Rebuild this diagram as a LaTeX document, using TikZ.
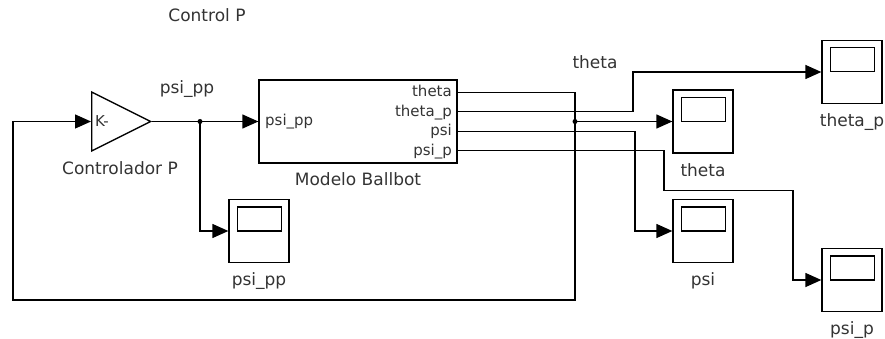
\documentclass[tikz,border=0pt]{standalone}
\usepackage{fontspec}
\setmainfont{DejaVu Sans}
\usetikzlibrary{shapes.geometric, arrows.meta, positioning, calc}
\tikzstyle{bloque} = [draw, line width=1.3pt, rectangle, inner sep=0pt]
\tikzstyle{ganancia} = [draw, line width=1.3pt, isosceles triangle, isosceles triangle stretches, minimum width=59pt, minimum height=59pt, inner sep=0pt, anchor=lower side]
\tikzstyle{osciloscopio} = [bloque, minimum width=60pt, minimum height=63pt]
\tikzstyle{senal} = [line width=1.3pt, -{Triangle[length=16pt,width=14pt]}]
\tikzstyle{linea} = [line width=1.3pt]
\tikzstyle{rotulo} = [font=\fontsize{17}{20}\selectfont, text=black!80, inner sep=0pt, anchor=base]
\tikzstyle{puerto} = [font=\fontsize{15}{18}\selectfont, text=black!80, inner sep=0pt]

\begin{document}
\begin{tikzpicture}[x=1pt, y=-1pt]
	\useasboundingbox (0,0) rectangle (885,339);
	\node[rotulo] (titulo) at (207,22) {Control P};
	% bloques
	\node[ganancia] (gan) at (91,121.5) {};
	\node[puerto, anchor=west] (ganK) at ([xshift=4pt]gan.lower side) {K-};
	\node[rotulo] (ganTxt) at (120,175) {Controlador P};
	\node[bloque, minimum width=198pt, minimum height=83pt] (mdl) at (358,121.5) {};
	\node[rotulo] (mdlTxt) at ([yshift=-22pt]mdl.south) {Modelo Ballbot};
	\node[puerto, anchor=base west] (pIn) at (265,126) {psi\_pp};
	\node[puerto, anchor=base east] (pT) at (452,97) {theta};
	\node[puerto, anchor=base east] (pTp) at (452,116.5) {theta\_p};
	\node[puerto, anchor=base east] (pP) at (452,136) {psi};
	\node[puerto, anchor=base east] (pPp) at (452,155.5) {psi\_p};
	\node[osciloscopio] (scT) at (703,121.5) {};
	\node[osciloscopio] (scTp) at (852,72) {};
	\node[osciloscopio] (scP) at (703,231) {};
	\node[osciloscopio] (scPp) at (852,280) {};
	\node[osciloscopio] (scPpp) at (259,231) {};
	\foreach \s/\t in {scT/theta, scTp/theta\_p, scP/psi, scPp/psi\_p, scPpp/psi\_pp} {
		\draw[linea] ([shift={(9pt,-8pt)}]\s.north west) rectangle ++(44pt,-24pt);
		\node[rotulo] (\s-txt) at ([yshift=-22.5pt]\s.south) {\t};
	}
	% etiquetas de senales
	\node[rotulo] (lblPpp) at (187,94) {psi\_pp};
	\node[rotulo] (lblT) at (595,69) {theta};
	% conexiones
	\coordinate (oT) at (457,92.25);
	\coordinate (oTp) at (457,111.75);
	\coordinate (oP) at (457,131.25);
	\coordinate (oPp) at (457,150.75);
	\coordinate (jG) at (200,121.5);
	\coordinate (jT) at (575,121.5);
	\coordinate (retorno) at (13,300);
	\draw[senal] (gan.apex) -- (mdl.west);
	\draw[senal] (jG) |- (scPpp.west);
	\draw[senal] (oT) -| (retorno -| jT) -- (retorno) |- (gan.lower side);
	\draw[senal] (jT) -- (scT.west);
	\draw[senal] (oTp) -- ++(176,0) |- (scTp.west);
	\draw[senal] (oP) -- ++(178,0) |- (scP.west);
	\draw[senal] (oPp) -- ++(207,0) -- ++(0,40) -- ++(129,0) |- (scPp.west);
	\fill (jG) circle (2.5pt);
	\fill (jT) circle (2.5pt);
\end{tikzpicture}
\end{document}
